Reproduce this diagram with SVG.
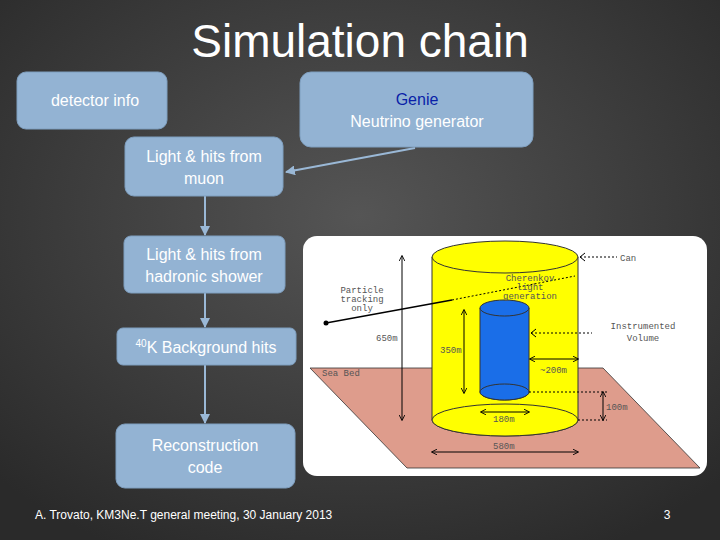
<svg xmlns="http://www.w3.org/2000/svg" width="720" height="540" viewBox="0 0 720 540">
<defs>
<radialGradient id="bg" cx="50%" cy="40%" r="70%"><stop offset="0" stop-color="#555"/><stop offset="1" stop-color="#2a2a2a"/></radialGradient>
<marker id="ah" viewBox="0 0 10 10" refX="9" refY="5" markerWidth="5" markerHeight="5" orient="auto"><path d="M0,0 L10,5 L0,10 z" fill="#9ab8d6"/></marker>
<marker id="bk" viewBox="0 0 10 10" refX="9" refY="5" markerWidth="6" markerHeight="6" orient="auto-start-reverse"><path d="M0,0 L10,5 L0,10" fill="none" stroke="#000" stroke-width="1.5"/></marker>
</defs>
<style>
.box{fill:#93b3d3;stroke:#7f9fbf;stroke-width:1}
.t{font-family:"Liberation Sans",Arial,sans-serif;font-size:16px;fill:#fff;text-anchor:middle}
.c{stroke:#9ab8d6;stroke-width:2;fill:none;marker-end:url(#ah)}
.m{font-family:"Liberation Mono",monospace;font-size:9px;fill:#555}
.d{stroke:#000;stroke-width:1;fill:none}
</style>
<rect width="720" height="540" fill="url(#bg)"/>
<text x="360" y="57" font-family="Liberation Sans,Arial,sans-serif" font-size="46" fill="#fff" text-anchor="middle">Simulation chain</text>
<g id="connectors">
<path class="c" d="M415,148 L286,172"/>
<path class="c" d="M205,196 L205,235"/>
<path class="c" d="M205,293 L205,327"/>
<path class="c" d="M205,365 L205,423"/>
</g>
<g id="detector"><rect class="box" x="17" y="72" width="150" height="57" rx="9"/><text class="t" x="95" y="106">detector info</text></g>
<g id="genie"><rect class="box" x="300" y="72" width="233" height="75" rx="11"/><text class="t" x="417" y="105" style="fill:#0a1fa8">Genie</text><text class="t" x="417" y="127">Neutrino generator</text></g>
<g id="muon"><rect class="box" x="125" y="137" width="158" height="59" rx="9"/><text class="t" x="204" y="162">Light &amp; hits from</text><text class="t" x="204" y="184">muon</text></g>
<g id="hadron"><rect class="box" x="124" y="236" width="161" height="57" rx="7"/><text class="t" x="204" y="260">Light &amp; hits from</text><text class="t" x="204" y="282">hadronic shower</text></g>
<g id="k40"><rect class="box" x="117" y="328" width="179" height="37" rx="6"/><text class="t" x="206" y="353"><tspan font-size="10" dy="-6">40</tspan><tspan dy="6">K Background hits</tspan></text></g>
<g id="reco"><rect class="box" x="116" y="424" width="179" height="64" rx="9"/><text class="t" x="205" y="451">Reconstruction</text><text class="t" x="205" y="473">code</text></g>
<g id="picture">
<rect x="303" y="236" width="404" height="240" rx="14" fill="#fff"/>
<path d="M310,368 L603,368 L700,468 L407,468 Z" fill="#de9c8c" stroke="#333" stroke-width="0.8"/>
<path d="M432,257 L432,420 A73,16 0 0 0 578,420 L578,257 Z" fill="#ffff00" stroke="#333"/>
<ellipse cx="505" cy="257" rx="73" ry="16" fill="#ffff00" stroke="#333"/>
<ellipse cx="505" cy="420" rx="73" ry="16" fill="#ffff00" stroke="#333"/>
<path d="M480,308 L480,392 A24.5,8 0 0 0 529,392 L529,308 Z" fill="#1a6ee8" stroke="#333"/>
<ellipse cx="504.5" cy="308" rx="24.5" ry="8" fill="#1a6ee8" stroke="#333"/>
<ellipse cx="504.5" cy="392" rx="24.5" ry="8" fill="#1a6ee8" stroke="#333"/>
<path d="M326,323 L452,300" stroke="#000" stroke-width="1.5"/>
<path d="M452,300 L575,276" stroke="#000" stroke-dasharray="2,2"/>
<circle cx="326" cy="323" r="2.5"/>
<path class="d" d="M402,256 L402,420" marker-start="url(#bk)" marker-end="url(#bk)"/>
<path class="d" d="M464,310 L464,393" marker-start="url(#bk)" marker-end="url(#bk)"/>
<path class="d" d="M530,359 L578,359" marker-start="url(#bk)" marker-end="url(#bk)"/>
<path class="d" d="M481,412 L529,412" marker-start="url(#bk)" marker-end="url(#bk)"/>
<path class="d" d="M432,452 L578,452" marker-start="url(#bk)" marker-end="url(#bk)"/>
<path class="d" d="M603,392 L603,420" marker-start="url(#bk)" marker-end="url(#bk)"/>
<path class="d" d="M529,392 L607,392 M578,420 L607,420" stroke-dasharray="2,2"/>
<path class="d" d="M531,333 L592,333 M580,257 L617,257" stroke-dasharray="2,2"/>
<path d="M536,329 L531,333 L536,337 M585,253 L580,257 L585,261" class="d"/>
<text class="m" x="620" y="261" font-size="11">Can</text>
<text class="m" x="643" y="329" font-size="11" text-anchor="middle">Instrumented</text>
<text class="m" x="643" y="341" font-size="11" text-anchor="middle">Volume</text>
<text class="m" x="362" y="293" text-anchor="middle">Particle</text>
<text class="m" x="362" y="302" text-anchor="middle">tracking</text>
<text class="m" x="362" y="311" text-anchor="middle">only</text>
<text class="m" x="530" y="281" text-anchor="middle" font-size="8">Cherenkov</text>
<text class="m" x="530" y="290" text-anchor="middle" font-size="8">light</text>
<text class="m" x="530" y="299" text-anchor="middle" font-size="8">generation</text>
<text class="m" x="376" y="341">650m</text>
<text class="m" x="440" y="353">350m</text>
<text class="m" x="540" y="373">~200m</text>
<text class="m" x="606" y="410">100m</text>
<text class="m" x="493" y="422">180m</text>
<text class="m" x="493" y="449">580m</text>
<text class="m" x="322" y="376">Sea Bed</text>
</g>
<text x="35" y="519" font-family="Liberation Sans,Arial,sans-serif" font-size="12" fill="#fff">A. Trovato, KM3Ne.T general meeting, 30 January 2013</text>
<text x="667" y="519" font-family="Liberation Sans,Arial,sans-serif" font-size="12" fill="#fff" text-anchor="middle">3</text>
</svg>
